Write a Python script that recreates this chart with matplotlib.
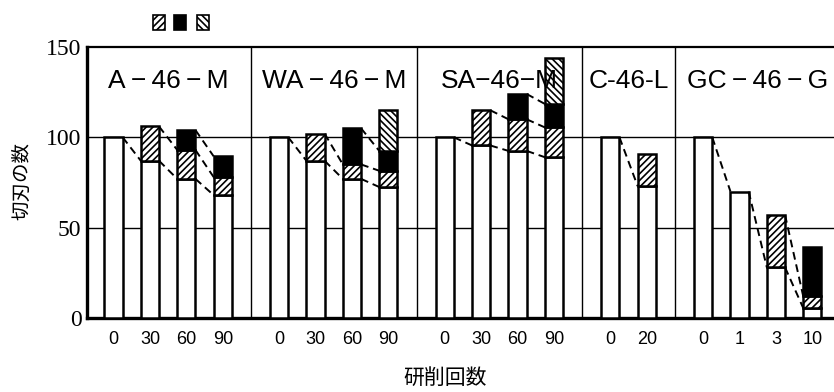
import matplotlib
matplotlib.use("Agg")
import matplotlib.pyplot as plt
from matplotlib.patches import Rectangle

plt.rcParams['font.family'] = ['Liberation Sans', 'Noto Sans CJK JP', 'DejaVu Sans']
plt.rcParams['hatch.linewidth'] = 1.2

# grinding wheels and the number of grinding passes for each bar
groups = ["A\u2009−\u200946\u2009−\u2009M", "WA\u2009−\u200946\u2009−\u2009M",
          "SA−46−M", "C‐46‐L", "GC\u2009−\u200946\u2009−\u2009G"]
passes = [
    ["0", "30", "60", "90"],
    ["0", "30", "60", "90"],
    ["0", "30", "60", "90"],
    ["0", "20"],
    ["0", "1", "3", "10"],
]

# stacked segment heights (number of cutting edges), bottom to top
white = [
    [100, 87, 77, 68],
    [100, 87, 77, 72.5],
    [100, 95.5, 92.5, 89],
    [100, 73],
    [100, 70, 28, 5.5],
]
fwd_hatch = [
    [0, 19, 16, 10],
    [0, 15, 8, 9],
    [0, 19.5, 17.5, 16.5],
    [0, 18],
    [0, 0, 29, 6.5],
]
solid = [
    [0, 0, 11, 11.5],
    [0, 0, 20, 11],
    [0, 0, 14, 13],
    [0, 0],
    [0, 0, 0, 27.5],
]
back_hatch = [
    [0, 0, 0, 0],
    [0, 0, 0, 22.5],
    [0, 0, 0, 25.5],
    [0, 0],
    [0, 0, 0, 0],
]

styles = [
    dict(facecolor="white", hatch=None),
    dict(facecolor="white", hatch="/////"),
    dict(facecolor="black", hatch=None),
    dict(facecolor="white", hatch="\\\\\\\\\\"),
]

W, H, DPI = 834, 392, 100
fig = plt.figure(figsize=(W / DPI, H / DPI), dpi=DPI)
ax_left, ax_bottom, ax_top, ax_right = 87, 318, 47, 836
ax = fig.add_axes([ax_left / W, 1 - ax_bottom / H,
                   (ax_right - ax_left) / W, (ax_bottom - ax_top) / H])

bar_w = 0.5
gap = 1.55
xs_all, labels_all = [], []
group_x = []
start = 0.0
for gi, name in enumerate(groups):
    n = len(passes[gi])
    xs = [start + i for i in range(n)]
    group_x.append(xs)
    xs_all += xs
    labels_all += passes[gi]
    start = xs[-1] + gap

ax.set_xlim(-0.73, 19.85)
ax.set_ylim(0, 150)

# separators and reference lines
for gi in range(len(groups) - 1):
    xm = (group_x[gi][-1] + group_x[gi + 1][0]) / 2
    ax.axvline(xm, color="black", lw=1.0, zorder=1)
for yv in (50, 100):
    ax.axhline(yv, color="black", lw=1.0, zorder=1)

for gi, name in enumerate(groups):
    xs = group_x[gi]
    tops_prev = None
    for bi, x in enumerate(xs):
        segs = [white[gi][bi], fwd_hatch[gi][bi], solid[gi][bi], back_hatch[gi][bi]]
        bottom = 0
        tops = []
        for si, h in enumerate(segs):
            if h > 0:
                ax.bar(x, h, bottom=bottom, width=bar_w, edgecolor="black",
                       linewidth=1.8, zorder=3, **styles[si])
                bottom += h
                tops.append(bottom)
            else:
                tops.append(None)
        # dashed links between matching layers of neighbouring bars
        if tops_prev is not None:
            for si in range(4):
                if tops_prev[si] is not None and tops[si] is not None:
                    ax.plot([xs[bi - 1] + bar_w / 2, x - bar_w / 2],
                            [tops_prev[si], tops[si]], color="black",
                            lw=1.4, ls=(0, (4, 2.5)), zorder=4)
        tops_prev = tops
    cx = (xs[0] + xs[-1]) / 2
    ax.text(cx, 131, name, ha="center", va="center", fontsize=19,
            family=["Liberation Sans", "DejaVu Sans"], zorder=5)

ax.set_xticks(xs_all)
ax.set_xticklabels(labels_all, fontsize=13)
ax.set_yticks([0, 50, 100, 150])
ax.set_yticklabels(["0", "50", "100", "150"], fontsize=17,
                   family=["Liberation Serif", "DejaVu Serif"])
ax.tick_params(axis="both", length=0)
ax.tick_params(axis="x", pad=9)
ax.tick_params(axis="y", pad=4)

for side in ("left", "bottom"):
    ax.spines[side].set_linewidth(2.4)
ax.spines["top"].set_linewidth(1.6)
ax.spines["right"].set_visible(False)

fig.text(445 / W, 1 - 378 / H, "研削回数", ha="center", va="center",
         fontsize=15, family=["Noto Sans CJK JP", "DejaVu Sans"])
fig.text(22 / W, 1 - 181 / H, "切刃の数", ha="center", va="center",
         rotation=90, fontsize=14, family=["Noto Sans CJK JP", "DejaVu Sans"])

# key squares above the frame
for px, si in zip((153, 174, 197), (1, 2, 3)):
    fig.add_artist(Rectangle((px / W, 1 - 30 / H), 12 / W, 15 / H,
                             transform=fig.transFigure, edgecolor="black",
                             linewidth=1.2, **styles[si]))

fig.savefig("out.png", dpi=DPI)
